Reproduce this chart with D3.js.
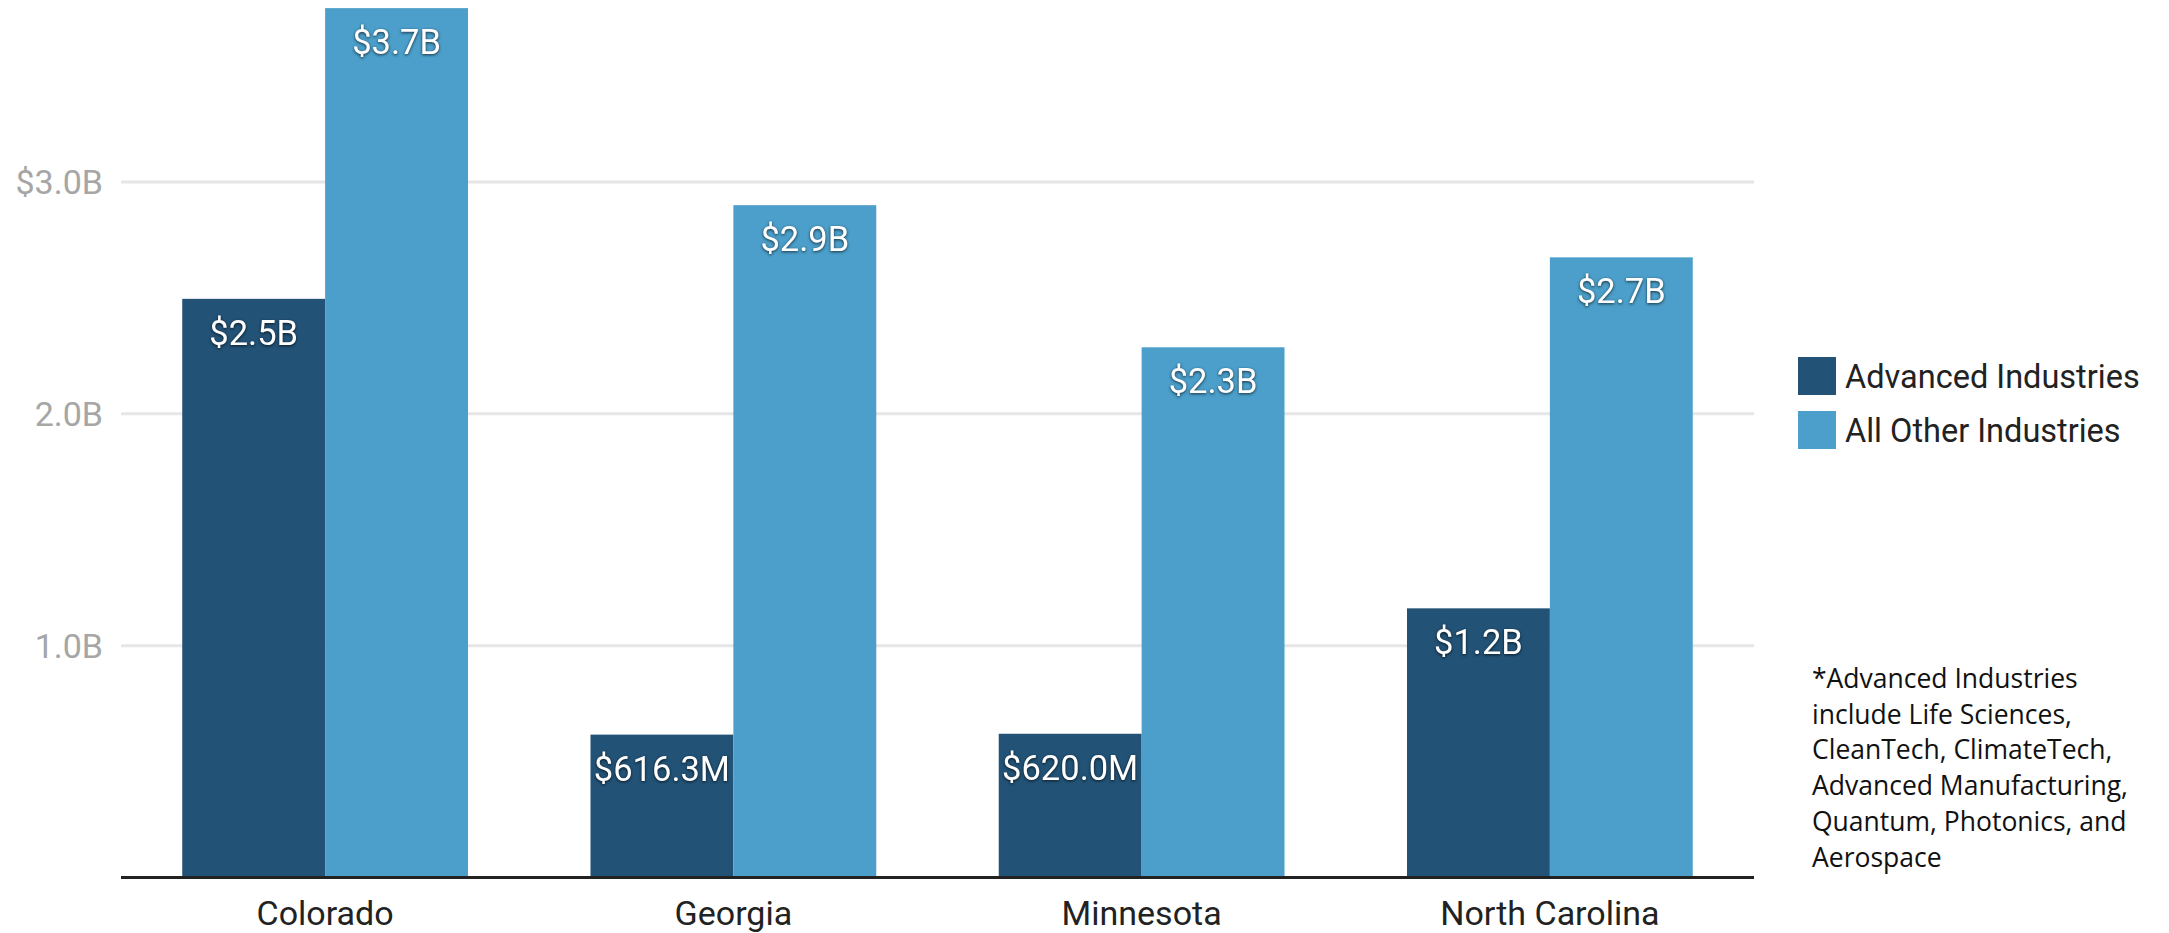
<!DOCTYPE html>
<html><head><meta charset="utf-8">
<script src="https://cdn.jsdelivr.net/npm/d3@7"></script>
<style>
html,body{margin:0;padding:0;background:#fff;}
svg{display:block;}
</style></head>
<body>
<script>
const categories = ["Colorado", "Georgia", "Minnesota", "North Carolina"];
const seriesNames = ["Advanced Industries", "All Other Industries"];
const advanced = [2.496, 0.6163, 0.620, 1.161];
const allOther = [3.75, 2.90, 2.287, 2.675];
const advancedLabels = ["$2.5B", "$616.3M", "$620.0M", "$1.2B"];
const allOtherLabels = ["$3.7B", "$2.9B", "$2.3B", "$2.7B"];
const yTicks = [1, 2, 3];
const yTickLabels = ["1.0B", "2.0B", "$3.0B"];
const footnote = ["*Advanced Industries", "include Life Sciences,", "CleanTech, ClimateTech,", "Advanced Manufacturing,", "Quantum, Photonics, and", "Aerospace"];
const colors = ["#225276", "#4b9fca"];

const W = 2169, H = 933;
const svg = d3.select("body").append("svg").attr("width", W).attr("height", H);

const x0 = d3.scaleBand().domain(categories).range([121, 1754]).paddingInner(0.3).paddingOuter(0.15);
const x1 = d3.scaleBand().domain(seriesNames).range([0, x0.bandwidth()]);
const y = d3.scaleLinear().domain([0, 3]).range([877.5, 182]);

// gridlines
svg.append("g").selectAll("line").data(yTicks).join("line")
  .attr("x1", 121).attr("x2", 1754)
  .attr("y1", d => y(d)).attr("y2", d => y(d))
  .attr("stroke", "#e6e6e6").attr("stroke-width", 3);

// y labels
svg.append("g").selectAll("text").data(yTicks).join("text")
  .attr("x", 103).attr("y", d => y(d)).attr("dy", "0.36em")
  .attr("text-anchor", "end")
  .attr("font-family", "Roboto").attr("font-size", 34).attr("fill", "#a6a6a6")
  .text((d, i) => yTickLabels[i]);

const rows = categories.map((c, i) => ({c, vals: [
  {s: seriesNames[0], v: advanced[i], l: advancedLabels[i], k: 0},
  {s: seriesNames[1], v: allOther[i], l: allOtherLabels[i], k: 1}]}));

const groups = svg.append("g").selectAll("g").data(rows).join("g")
  .attr("transform", d => `translate(${x0(d.c)},0)`);

groups.selectAll("rect").data(d => d.vals).join("rect")
  .attr("x", d => x1(d.s)).attr("width", x1.bandwidth())
  .attr("y", d => y(d.v)).attr("height", d => y(0) - y(d.v))
  .attr("fill", d => colors[d.k]);

groups.selectAll("text").data(d => d.vals).join("text")
  .attr("x", d => x1(d.s) + x1.bandwidth() / 2)
  .attr("y", d => y(d.v) + 46)
  .attr("text-anchor", "middle")
  .attr("font-family", "Roboto").attr("font-size", 34.5).attr("fill", "#fff")
  .style("filter", "drop-shadow(0px 1px 1.5px rgba(0,0,0,0.7))")
  .text(d => d.l);

// axis line
svg.append("line").attr("x1", 121).attr("x2", 1754).attr("y1", y(0)).attr("y2", y(0))
  .attr("stroke", "#222").attr("stroke-width", 3);

// category labels
svg.append("g").selectAll("text").data(categories).join("text")
  .attr("x", d => x0(d) + x0.bandwidth() / 2).attr("y", 925)
  .attr("text-anchor", "middle")
  .attr("font-family", "Roboto").attr("font-size", 34).attr("fill", "#222")
  .text(d => d);

// legend
const lg = svg.append("g").selectAll("g").data(seriesNames).join("g")
  .attr("transform", (d, i) => `translate(1798,${357 + i * 54})`);
lg.append("rect").attr("width", 38).attr("height", 38).attr("fill", (d, i) => colors[i]);
lg.append("text").attr("x", 47).attr("y", 19).attr("dy", "0.36em")
  .attr("font-family", "Roboto").attr("font-size", 32.5).attr("fill", "#222")
  .text(d => d);

// footnote
svg.append("g").selectAll("text").data(footnote).join("text")
  .attr("x", 1812).attr("y", (d, i) => 688 + i * 35.7)
  .attr("font-family", "Open Sans").attr("font-size", 26.5).attr("fill", "#111")
  .text(d => d);
</script>
</body></html>
